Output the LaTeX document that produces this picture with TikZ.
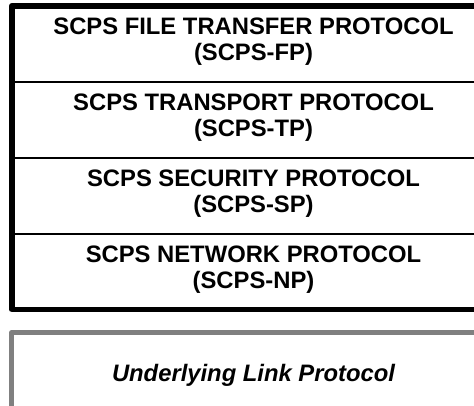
\documentclass[tikz,border=0pt]{standalone}
\usepackage{fontspec}
\setmainfont{Liberation Sans}
\usetikzlibrary{positioning}
\tikzset{%
	layer/.style     = {rectangle, minimum width=483pt, minimum height=75.5pt, inner sep=0pt, text depth=9pt, align=center, font=\fontsize{23.8}{25.5}\selectfont\bfseries},
	linklayer/.style = {rectangle, minimum width=483pt, minimum height=86pt, inner sep=0pt, align=center, font=\fontsize{23.8}{25.5}\selectfont\bfseries\itshape},
	divider/.style   = {line width=2pt},
	stackframe/.style= {line width=5.5pt, line join=round},
	linkframe/.style = {line width=5pt, line join=round, draw=gray},
}

\begin{document}
\begin{tikzpicture}[x=1pt,y=1pt]
	\useasboundingbox (0,0) rectangle (474,-405);
	\node [layer] (fp) at (253.5,-43.75) {SCPS FILE TRANSFER PROTOCOL\\(SCPS-FP)};
	\node [layer] (tp) [below=0pt of fp] {SCPS TRANSPORT PROTOCOL\\(SCPS-TP)};
	\node [layer] (sp) [below=0pt of tp] {SCPS SECURITY PROTOCOL\\(SCPS-SP)};
	\node [layer] (np) [below=0pt of sp] {SCPS NETWORK PROTOCOL\\(SCPS-NP)};
	\node [linklayer] (link) [below=23pt of np] {Underlying Link Protocol};
	
	\draw[divider] (fp.south west) -- (fp.south east);
	\draw[divider] (tp.south west) -- (tp.south east);
	\draw[divider] (sp.south west) -- (sp.south east);
	\draw[stackframe] (fp.north west) rectangle (np.south east);
	\draw[linkframe] (link.north west) rectangle (link.south east);
\end{tikzpicture}
\end{document}
